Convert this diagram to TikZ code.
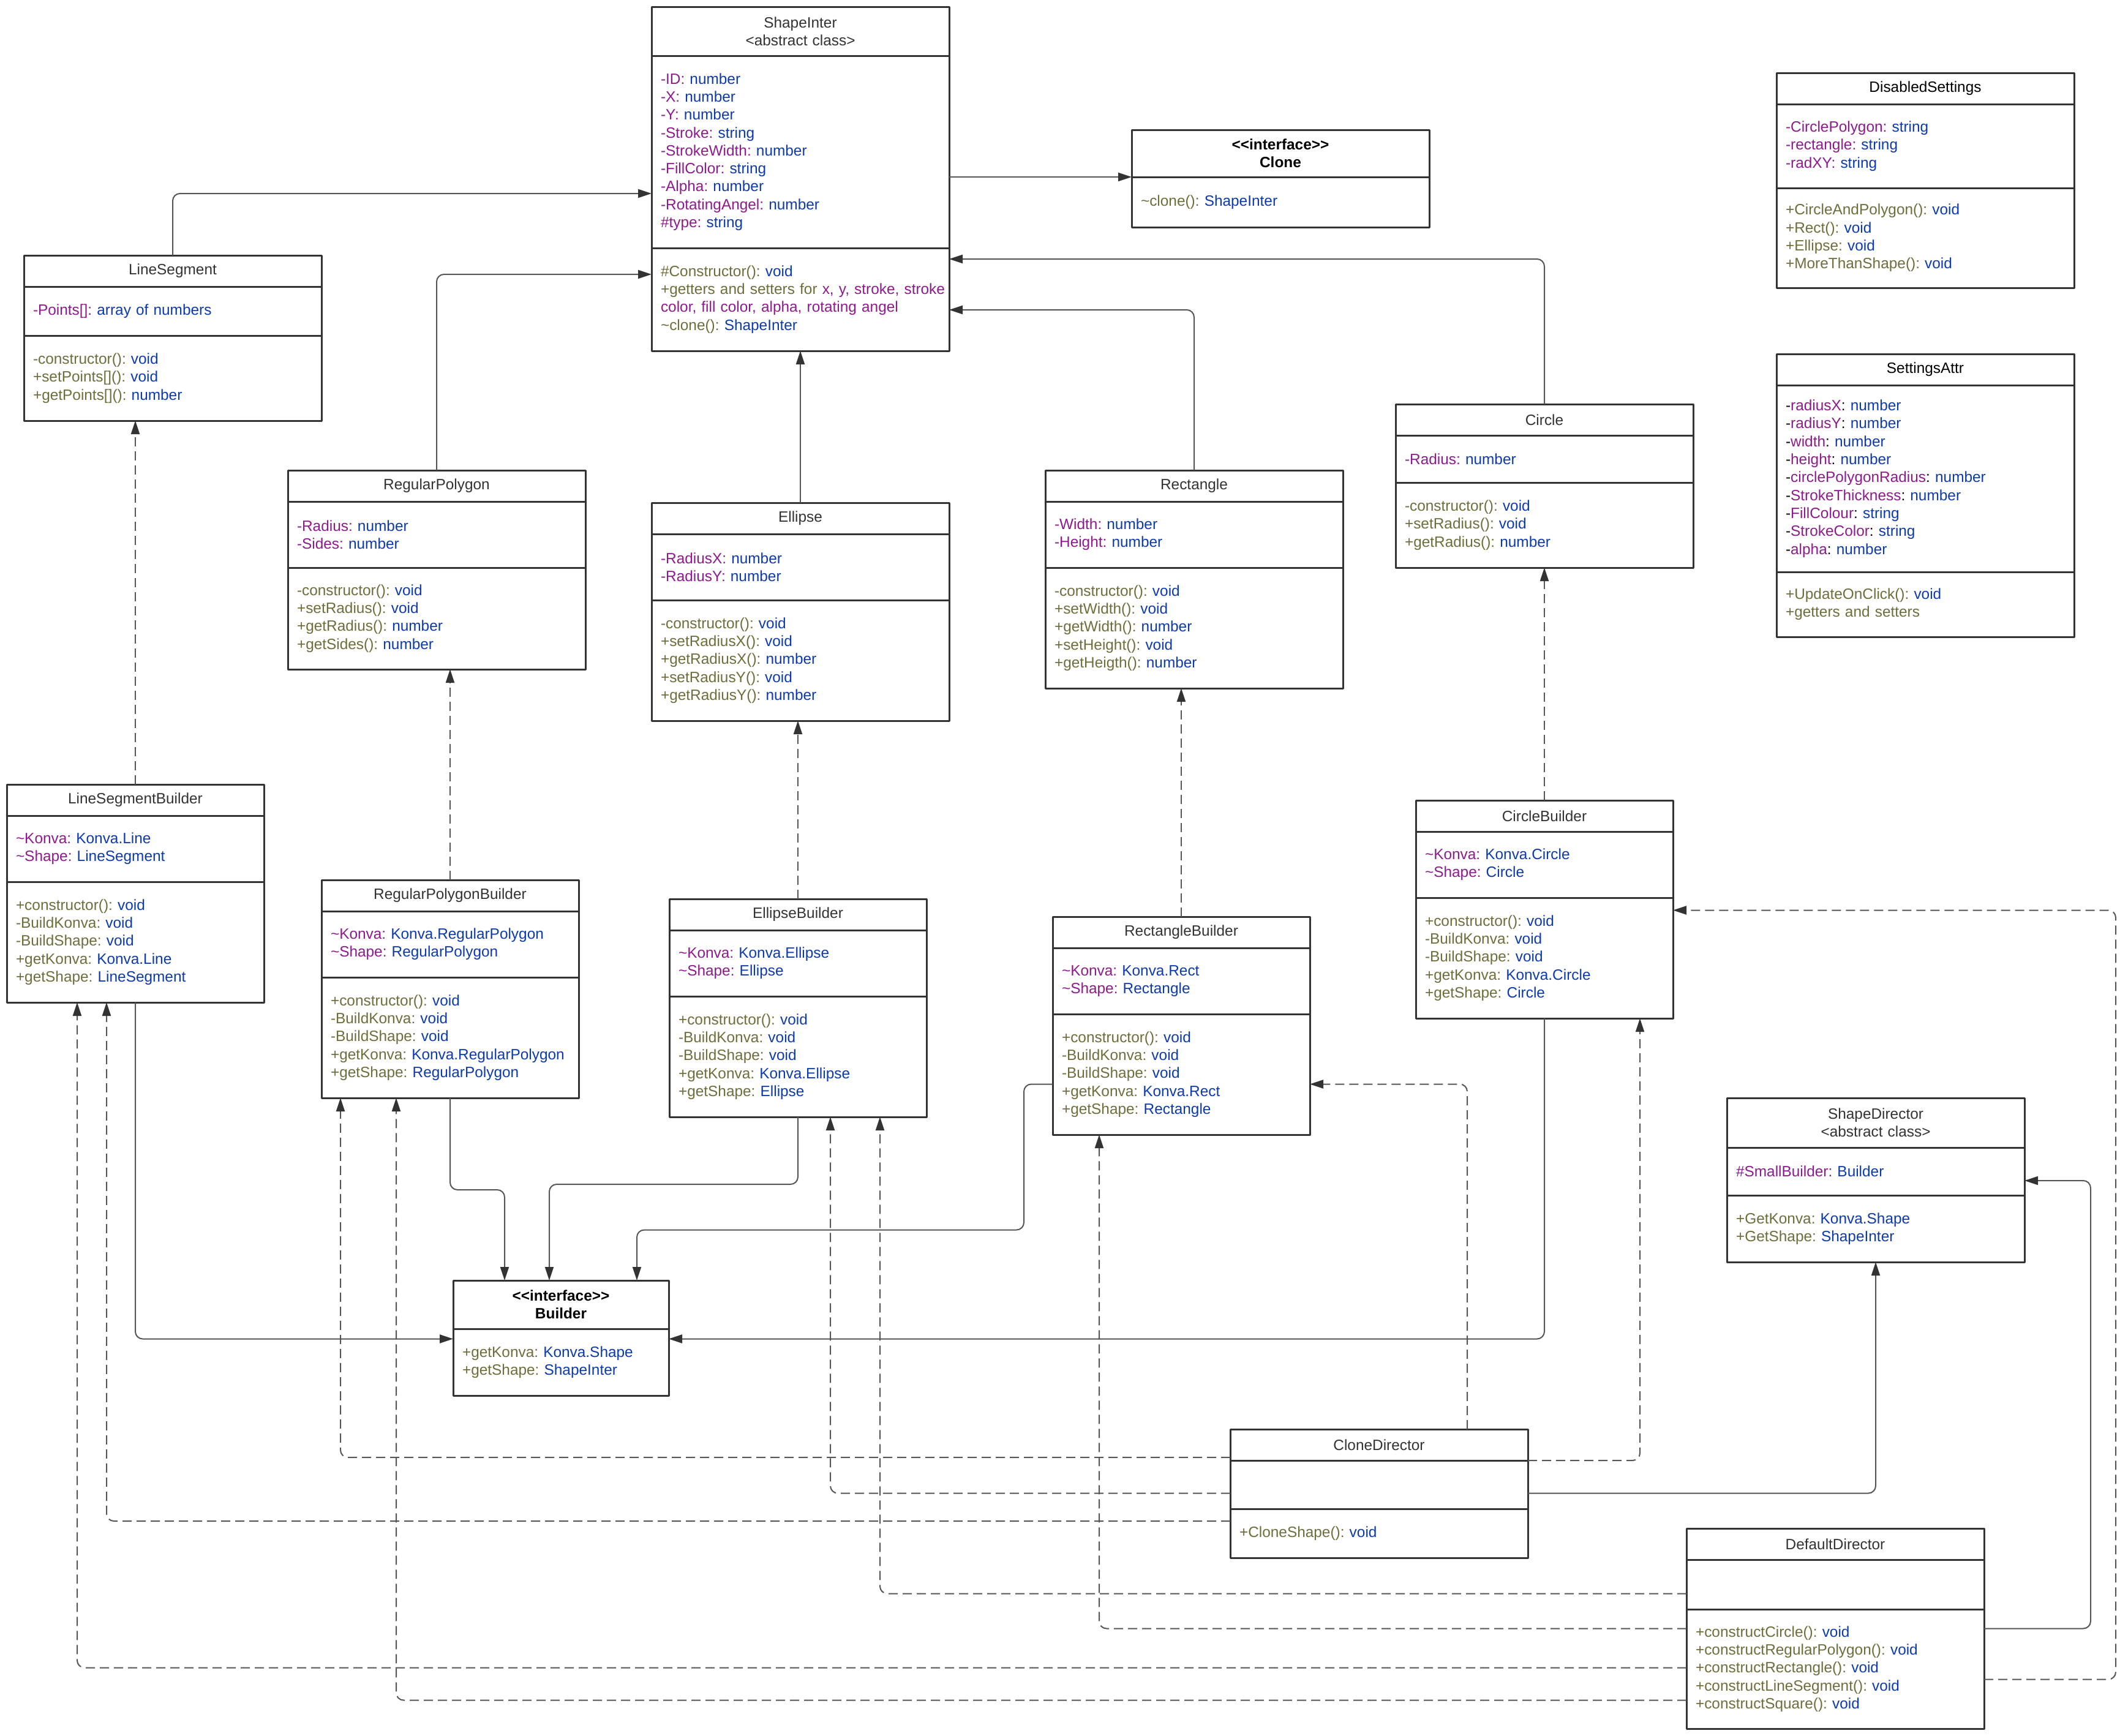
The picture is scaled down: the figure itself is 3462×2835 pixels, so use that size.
\documentclass[tikz,border=0pt]{standalone}
\usepackage{fontspec}
\setmainfont{Liberation Sans}
\usetikzlibrary{arrows.meta}
\definecolor{umlline}{HTML}{333333}
\definecolor{umlwire}{HTML}{555555}
\definecolor{umlhead}{HTML}{333333}
\definecolor{umlattr}{HTML}{8E1B8E}
\definecolor{umltype}{HTML}{0D3AAE}
\definecolor{umlop}{HTML}{6E6E3C}
\newcommand{\umla}[2]{\textcolor{umlattr}{#1}\textcolor{umltype}{#2}}
\newcommand{\umlm}[2]{\textcolor{umlop}{#1}\textcolor{umltype}{#2}}
\newcommand{\umlb}[2]{-\textcolor{umlattr}{#1}: \textcolor{umltype}{#2}}
\newcommand{\tld}{\textasciitilde}
\frenchspacing

\begin{document}
\begin{tikzpicture}[
  x=1pt,y=-1pt,
  line join=round,
  box/.style={draw=umlline,fill=white,line width=3pt,outer sep=0pt,inner xsep=15pt,inner ysep=0pt,font=\fontsize{24.4}{29.3}\selectfont\frenchspacing},
  head/.style={box,align=center,text=umlhead,anchor=north west},
  stereo/.style={head,text=black,font=\fontsize{24.4}{29.3}\selectfont\bfseries},
  part/.style={box,align=left,anchor=north},
  wide/.style={minimum width=486pt,text width=456pt},
  slim/.style={minimum width=420pt,text width=390pt},
  tiny/.style={minimum width=352pt,text width=322pt},
  wire/.style={draw=umlwire,line width=2pt,rounded corners=12pt,-{Triangle[length=22pt,width=14pt,color=umlline]}},
  realize/.style={wire,dash pattern=on 15pt off 8pt}
]
  \useasboundingbox (0,0) rectangle (3462,2835);

  % shapes
  \node[head,wide,minimum height=80pt] (si) at (1064,11) {ShapeInter\\<abstract class>};
  \node[part,wide,minimum height=314pt] (si-a) at (si.south) {\umla{-ID: }{number}\\\umla{-X: }{number}\\\umla{-Y: }{number}\\\umla{-Stroke: }{string}\\\umla{-StrokeWidth: }{number}\\\umla{-FillColor: }{string}\\\umla{-Alpha: }{number}\\\umla{-RotatingAngel: }{number}\\\umla{\#type: }{string}};
  \node[part,wide,minimum height=168pt] (si-m) at (si-a.south) {\umlm{\#Constructor(): }{void}\\\mbox{\textcolor{umlop}{+getters and setters for }\textcolor{umlattr}{x, y, stroke, stroke}}\\\textcolor{umlattr}{color, fill color, alpha, rotating angel}\\\umlm{\tld clone(): }{ShapeInter}};

  \node[stereo,wide,minimum height=77pt] (clone) at (1848,212) {<{}<interface>{}>\\Clone};
  \node[part,wide,minimum height=82pt] (clone-m) at (clone.south) {\umlm{\tld clone(): }{ShapeInter}};

  \node[head,wide,minimum height=51pt] (ls) at (39,417) {LineSegment};
  \node[part,wide,minimum height=80pt] (ls-a) at (ls.south) {\umla{-Points[]: }{array of numbers}};
  \node[part,wide,minimum height=139pt] (ls-m) at (ls-a.south) {\umlm{-constructor(): }{void}\\\umlm{+setPoints[](): }{void}\\\umlm{+getPoints[](): }{number}};

  \node[head,wide,minimum height=51pt] (rp) at (470,768) {RegularPolygon};
  \node[part,wide,minimum height=108pt] (rp-a) at (rp.south) {\umla{-Radius: }{number}\\\umla{-Sides: }{number}};
  \node[part,wide,minimum height=166pt] (rp-m) at (rp-a.south) {\umlm{-constructor(): }{void}\\\umlm{+setRadius(): }{void}\\\umlm{+getRadius(): }{number}\\\umlm{+getSides(): }{number}};

  \node[head,wide,minimum height=51pt] (el) at (1064,821) {Ellipse};
  \node[part,wide,minimum height=108pt] (el-a) at (el.south) {\umla{-RadiusX: }{number}\\\umla{-RadiusY: }{number}};
  \node[part,wide,minimum height=197pt] (el-m) at (el-a.south) {\umlm{-constructor(): }{void}\\\umlm{+setRadiusX(): }{void}\\\umlm{+getRadiusX(): }{number}\\\umlm{+setRadiusY(): }{void}\\\umlm{+getRadiusY(): }{number}};

  \node[head,wide,minimum height=51pt] (re) at (1707,768) {Rectangle};
  \node[part,wide,minimum height=108pt] (re-a) at (re.south) {\umla{-Width: }{number}\\\umla{-Height: }{number}};
  \node[part,wide,minimum height=197pt] (re-m) at (re-a.south) {\umlm{-constructor(): }{void}\\\umlm{+setWidth(): }{void}\\\umlm{+getWidth(): }{number}\\\umlm{+setHeight(): }{void}\\\umlm{+getHeigth(): }{number}};

  \node[head,wide,minimum height=51pt] (ci) at (2279,660) {Circle};
  \node[part,wide,minimum height=77pt] (ci-a) at (ci.south) {\umla{-Radius: }{number}};
  \node[part,wide,minimum height=139pt] (ci-m) at (ci-a.south) {\umlm{-constructor(): }{void}\\\umlm{+setRadius(): }{void}\\\umlm{+getRadius(): }{number}};

  % settings
  \node[head,wide,minimum height=51pt,text=black] (ds) at (2901,119) {DisabledSettings};
  \node[part,wide,minimum height=137pt] (ds-a) at (ds.south) {\umla{-CirclePolygon: }{string}\\\umla{-rectangle: }{string}\\\umla{-radXY: }{string}};
  \node[part,wide,minimum height=163pt] (ds-m) at (ds-a.south) {\umlm{+CircleAndPolygon(): }{void}\\\umlm{+Rect(): }{void}\\\umlm{+Ellipse: }{void}\\\umlm{+MoreThanShape(): }{void}};

  \node[head,wide,minimum height=51pt,text=black] (sa) at (2901,578) {SettingsAttr};
  \node[part,wide,minimum height=305pt] (sa-a) at (sa.south) {\umlb{radiusX}{number}\\\umlb{radiusY}{number}\\\umlb{width}{number}\\\umlb{height}{number}\\\umlb{circlePolygonRadius}{number}\\\umlb{StrokeThickness}{number}\\\umlb{FillColour}{string}\\\umlb{StrokeColor}{string}\\\umlb{alpha}{number}};
  \node[part,wide,minimum height=106pt] (sa-m) at (sa-a.south) {\umlm{+UpdateOnClick(): }{void}\\\textcolor{umlop}{+getters and setters}};

  % builders
  \node[head,slim,minimum height=51pt] (lsb) at (11,1281) {LineSegmentBuilder};
  \node[part,slim,minimum height=108pt] (lsb-a) at (lsb.south) {\umla{\tld Konva: }{Konva.Line}\\\umla{\tld Shape: }{LineSegment}};
  \node[part,slim,minimum height=197pt] (lsb-m) at (lsb-a.south) {\umlm{+constructor(): }{void}\\\umlm{-BuildKonva: }{void}\\\umlm{-BuildShape: }{void}\\\umlm{+getKonva: }{Konva.Line}\\\umlm{+getShape: }{LineSegment}};

  \node[head,slim,minimum height=51pt] (rpb) at (525,1437) {RegularPolygonBuilder};
  \node[part,slim,minimum height=108pt] (rpb-a) at (rpb.south) {\umla{\tld Konva: }{Konva.RegularPolygon}\\\umla{\tld Shape: }{RegularPolygon}};
  \node[part,slim,minimum height=197pt] (rpb-m) at (rpb-a.south) {\umlm{+constructor(): }{void}\\\umlm{-BuildKonva: }{void}\\\umlm{-BuildShape: }{void}\\\umlm{+getKonva: }{Konva.RegularPolygon}\\\umlm{+getShape: }{RegularPolygon}};

  \node[head,slim,minimum height=51pt] (elb) at (1093,1468) {EllipseBuilder};
  \node[part,slim,minimum height=108pt] (elb-a) at (elb.south) {\umla{\tld Konva: }{Konva.Ellipse}\\\umla{\tld Shape: }{Ellipse}};
  \node[part,slim,minimum height=197pt] (elb-m) at (elb-a.south) {\umlm{+constructor(): }{void}\\\umlm{-BuildKonva: }{void}\\\umlm{-BuildShape: }{void}\\\umlm{+getKonva: }{Konva.Ellipse}\\\umlm{+getShape: }{Ellipse}};

  \node[head,slim,minimum height=51pt] (reb) at (1719,1497) {RectangleBuilder};
  \node[part,slim,minimum height=108pt] (reb-a) at (reb.south) {\umla{\tld Konva: }{Konva.Rect}\\\umla{\tld Shape: }{Rectangle}};
  \node[part,slim,minimum height=197pt] (reb-m) at (reb-a.south) {\umlm{+constructor(): }{void}\\\umlm{-BuildKonva: }{void}\\\umlm{-BuildShape: }{void}\\\umlm{+getKonva: }{Konva.Rect}\\\umlm{+getShape: }{Rectangle}};

  \node[head,slim,minimum height=51pt] (cib) at (2312,1307) {CircleBuilder};
  \node[part,slim,minimum height=108pt] (cib-a) at (cib.south) {\umla{\tld Konva: }{Konva.Circle}\\\umla{\tld Shape: }{Circle}};
  \node[part,slim,minimum height=197pt] (cib-m) at (cib-a.south) {\umlm{+constructor(): }{void}\\\umlm{-BuildKonva: }{void}\\\umlm{-BuildShape: }{void}\\\umlm{+getKonva: }{Konva.Circle}\\\umlm{+getShape: }{Circle}};

  \node[stereo,tiny,minimum height=79pt] (bu) at (740,2091) {<{}<interface>{}>\\Builder};
  \node[part,tiny,minimum height=109pt] (bu-m) at (bu.south) {\umlm{+getKonva: }{Konva.Shape}\\\umlm{+getShape: }{ShapeInter}};

  % directors
  \node[head,wide,minimum height=81pt] (sd) at (2820,1793) {ShapeDirector\\<abstract class>};
  \node[part,wide,minimum height=78pt] (sd-a) at (sd.south) {\umla{\#SmallBuilder: }{Builder}};
  \node[part,wide,minimum height=109pt] (sd-m) at (sd-a.south) {\umlm{+GetKonva: }{Konva.Shape}\\\umlm{+GetShape: }{ShapeInter}};

  \node[head,wide,minimum height=51pt] (cd) at (2009,2334) {CloneDirector};
  \node[part,wide,minimum height=79pt] (cd-a) at (cd.south) {};
  \node[part,wide,minimum height=80pt] (cd-m) at (cd-a.south) {\umlm{+CloneShape(): }{void}};

  \node[head,wide,minimum height=51pt] (dd) at (2754,2496) {DefaultDirector};
  \node[part,wide,minimum height=81pt] (dd-a) at (dd.south) {};
  \node[part,wide,minimum height=195pt] (dd-m) at (dd-a.south) {\umlm{+constructCircle(): }{void}\\\umlm{+constructRegularPolygon(): }{void}\\\umlm{+constructRectangle(): }{void}\\\umlm{+constructLineSegment(): }{void}\\\umlm{+constructSquare(): }{void}};

  % inheritance
  \draw[wire] (ls.north) |- ([yshift=-68pt]si-a.west);
  \draw[wire] (rp.north) |- ([yshift=41pt]si-m.west);
  \draw[wire] (el.north) -- (si-m.south);
  \draw[wire] (re.north) |- ([yshift=-17pt]si-m.east);
  \draw[wire] (ci.north) |- ([yshift=66pt]si-m.east);
  \draw[wire] (si-a.east |- clone.south west) -- (clone.south west);

  % builders to shapes
  \draw[realize] (lsb.north) -- (lsb.north |- ls-m.south);
  \draw[realize] (rpb.north) -- (rpb.north |- rp-m.south);
  \draw[realize] (elb.north) -- (elb.north |- el-m.south);
  \draw[realize] (reb.north) -- (reb.north |- re-m.south);
  \draw[realize] (cib.north) -- (cib.north |- ci-m.south);

  % builders to interface
  \draw[wire] (lsb-m.south) |- ([yshift=38pt]bu-m.west);
  \draw[wire] (rpb-m.south) -- ++(0,150) -| ([xshift=-92pt]bu.north);
  \draw[wire] (elb-m.south) -- ++(0,110) -| ([xshift=-19pt]bu.north);
  \draw[wire] ([yshift=-16pt]reb-m.west) -- ++(-47,0) -- ++(0,238) -| ([xshift=124pt]bu.north);
  \draw[wire] (cib-m.south) |- ([yshift=38pt]bu-m.east);

  % clone director
  \draw[realize] ([xshift=144pt]cd.north) |- ([yshift=-16pt]reb-m.east);
  \draw[realize] (cd.south east) -| ([xshift=156pt]cib-m.south);
  \draw[realize] ([yshift=5pt]cd.south west) -| ([xshift=-179pt]rpb-m.south);
  \draw[realize] ([yshift=-14pt]cd-a.west) -| ([xshift=53pt]elb-m.south);
  \draw[realize] ([yshift=20pt]cd-m.west) -| ([xshift=-47pt]lsb-m.south);
  \draw[wire] ([yshift=-14pt]cd-a.east) -| (sd-m.south);

  % default director
  \draw[realize] ([yshift=-15pt]dd-a.west) -| ([xshift=134pt]elb-m.south);
  \draw[realize] ([yshift=66pt]dd-m.west) -| ([xshift=-134pt]reb-m.south);
  \draw[realize] ([yshift=2pt]dd-m.west) -| ([xshift=-95pt]lsb-m.south);
  \draw[realize] ([yshift=-51pt]dd-m.west) -| ([xshift=-88pt]rpb-m.south);
  \draw[wire] ([yshift=66pt]dd-m.east) -- ++(174,0) |- ([yshift=-15pt]sd-a.east);
  \draw[realize] ([yshift=-17pt]dd-m.east) -- ++(215,0) |- ([yshift=78pt]cib-m.east);
\end{tikzpicture}
\end{document}
